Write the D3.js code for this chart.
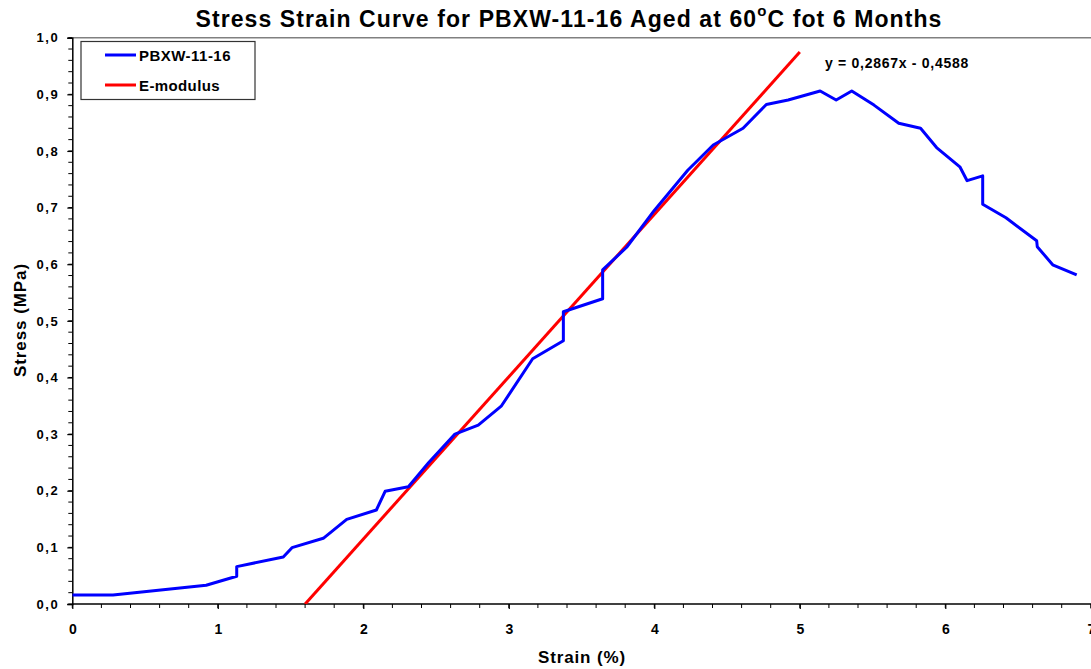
<!DOCTYPE html>
<html>
<head>
<meta charset="utf-8">
<script src="https://cdn.jsdelivr.net/npm/d3@7"></script>
<style>
  html, body { margin: 0; padding: 0; background: #fff; }
  svg { display: block; font-family: "Liberation Sans", Arial, sans-serif; }
  text { font-weight: bold; fill: #000; }
</style>
</head>
<body>
<svg id="chart" width="1091" height="669"></svg>
<script>
// Measured stress-strain curve (strain %, stress MPa)
const strain = [0, 0.28, 0.92, 1.13, 1.13, 1.45, 1.51, 1.725, 1.886, 2.09, 2.15, 2.31, 2.45, 2.63, 2.79, 2.95, 3.164, 3.375, 3.375, 3.645, 3.645, 3.81, 4.0, 4.23, 4.405, 4.61, 4.77, 4.92, 5.14, 5.25, 5.357, 5.51, 5.68, 5.83, 5.94, 6.10, 6.15, 6.257, 6.257, 6.417, 6.628, 6.632, 6.738, 6.903];
const stress = [0.016, 0.016, 0.033, 0.049, 0.066, 0.083, 0.0995, 0.116, 0.1495, 0.166, 0.199, 0.207, 0.250, 0.300, 0.316, 0.350, 0.433, 0.465, 0.516, 0.539, 0.590, 0.630, 0.695, 0.766, 0.8105, 0.840, 0.882, 0.890, 0.906, 0.890, 0.906, 0.881, 0.849, 0.840, 0.806, 0.772, 0.7475, 0.756, 0.706, 0.682, 0.6415, 0.631, 0.599, 0.581];

// Linear fit of the elastic region: y = slope * x + intercept
const slope = 0.2867;
const intercept = -0.4588;
const fitXEnd = 5.0;

const xTicks = [0, 1, 2, 3, 4, 5, 6, 7];
const yTicks = [0, 0.1, 0.2, 0.3, 0.4, 0.5, 0.6, 0.7, 0.8, 0.9, 1.0];
const seriesNames = ["PBXW-11-16", "E-modulus"];
const seriesColors = ["#0000ff", "#ff0000"];

const svg = d3.select("#chart");
const plotLeft = 72.3, plotRight = 1090.8, plotTop = 37.7, plotBottom = 604;

const x = d3.scaleLinear().domain([0, 7]).range([plotLeft, plotRight]);
const y = d3.scaleLinear().domain([0, 1]).range([plotBottom, plotTop]);
const comma = v => d3.format(".1f")(v).replace(".", ",");

// Spread a label's letters so it spans the given width
function spread(sel, width) {
  const n = sel.text().length;
  const w = sel.node().getComputedTextLength();
  sel.style("letter-spacing", ((width - w) / n) + "px");
}

// Top frame line
svg.append("line")
  .attr("x1", plotLeft).attr("x2", 1091).attr("y1", plotTop).attr("y2", plotTop)
  .attr("stroke", "#808080").attr("stroke-width", 1.5);

// Minor ticks
const xMinor = d3.range(0, 7.001, 0.2);
const yMinor = d3.range(0, 1.001, 0.02);
svg.append("g").selectAll("line").data(xMinor).join("line")
  .attr("x1", d => x(d)).attr("x2", d => x(d))
  .attr("y1", plotBottom).attr("y2", plotBottom + 4)
  .attr("stroke", "#000").attr("stroke-width", 1);
svg.append("g").selectAll("line").data(yMinor).join("line")
  .attr("x1", plotLeft - 4).attr("x2", plotLeft)
  .attr("y1", d => y(d)).attr("y2", d => y(d))
  .attr("stroke", "#000").attr("stroke-width", 1);

// Axes
const xAxis = svg.append("g")
  .attr("transform", `translate(0,${plotBottom})`)
  .call(d3.axisBottom(x).tickValues(xTicks).tickFormat(d3.format("d")).tickSize(5).tickPadding(15));
const yAxis = svg.append("g")
  .attr("transform", `translate(${plotLeft},0)`)
  .call(d3.axisLeft(y).tickValues(yTicks).tickFormat(comma).tickSize(5).tickPadding(8));
[xAxis, yAxis].forEach(a => {
  a.select(".domain").attr("stroke", "#000").attr("stroke-width", 1.5);
  a.selectAll(".tick line").attr("stroke", "#000").attr("stroke-width", 1.2);
  a.selectAll(".tick text").style("font-size", "13px").style("font-weight", "bold")
    .style("font-family", "'Liberation Sans', Arial, sans-serif").attr("fill", "#000");
});
yAxis.selectAll(".tick text").style("letter-spacing", "1.6px");
xAxis.selectAll(".tick text").style("font-size", "14px");
xAxis.select(".domain").attr("d", `M${plotLeft},0H1091`);

// Clip to plot region
svg.append("clipPath").attr("id", "plot")
  .append("rect").attr("x", plotLeft).attr("y", plotTop).attr("width", 1091 - plotLeft).attr("height", plotBottom - plotTop);
const plot = svg.append("g").attr("clip-path", "url(#plot)");

// Fitted modulus line (from zero-stress intercept to x = 5)
const fitStart = -intercept / slope;
const fitData = [fitStart, fitXEnd].map(v => [v, slope * v + intercept]);
plot.append("path")
  .datum(fitData)
  .attr("d", d3.line().x(d => x(d[0])).y(d => y(d[1])))
  .attr("fill", "none").attr("stroke", seriesColors[1]).attr("stroke-width", 3);

// Measured curve
const curve = strain.map((s, i) => [s, stress[i]]);
plot.append("path")
  .datum(curve)
  .attr("d", d3.line().x(d => x(d[0])).y(d => y(d[1])))
  .attr("fill", "none").attr("stroke", seriesColors[0]).attr("stroke-width", 3)
  .attr("stroke-linejoin", "round");

// Fit equation
const eq = svg.append("text")
  .attr("x", 825).attr("y", 68)
  .style("font-size", "14px")
  .text(`y = ${String(slope).replace(".", ",")}x - ${String(-intercept).replace(".", ",")}`);
spread(eq, 144);

// Legend
const legend = svg.append("g");
legend.append("rect")
  .attr("x", 81).attr("y", 41.5).attr("width", 174).attr("height", 58)
  .attr("fill", "#fff").attr("stroke", "#333").attr("stroke-width", 1.2);
const legendWidths = [92, 81];
seriesNames.forEach((name, i) => {
  const ly = 55 + i * 30;
  legend.append("line")
    .attr("x1", 105).attr("x2", 136).attr("y1", ly).attr("y2", ly)
    .attr("stroke", seriesColors[i]).attr("stroke-width", 3);
  const t = legend.append("text")
    .attr("x", 139).attr("y", ly + 5.5)
    .style("font-size", "15px")
    .text(name);
  spread(t, legendWidths[i]);
});

// Title
const title = svg.append("text")
  .attr("x", 569).attr("y", 26.5)
  .attr("text-anchor", "middle")
  .style("font-size", "23px");
title.append("tspan").text("Stress Strain Curve for PBXW-11-16 Aged at 60");
title.append("tspan").attr("dy", -11).style("font-size", "15px").text("o");
title.append("tspan").attr("dy", 11).text("C fot 6 Months");
spread(title, 747);

// Axis titles
const xTitle = svg.append("text")
  .attr("x", 582).attr("y", 663)
  .attr("text-anchor", "middle")
  .style("font-size", "17px")
  .text("Strain (%)");
spread(xTitle, 88);
const yTitle = svg.append("text")
  .attr("transform", "translate(25.5,320) rotate(-90)")
  .attr("text-anchor", "middle")
  .style("font-size", "17px")
  .text("Stress (MPa)");
spread(yTitle, 114);
</script>
</body>
</html>
